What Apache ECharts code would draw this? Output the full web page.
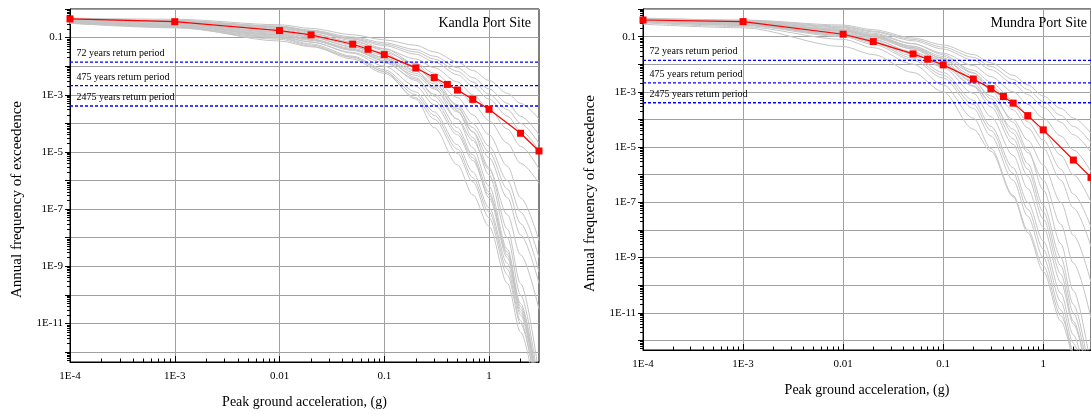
<!DOCTYPE html>
<html>
<head>
<meta charset="utf-8">
<title>Hazard curves - Kandla and Mundra port sites</title>
<script src="https://cdn.jsdelivr.net/npm/echarts@6/dist/echarts.min.js"></script>
<style>
  html, body { margin: 0; padding: 0; background: #fff; }
  #chart { width: 1091px; height: 414px; }
</style>
</head>
<body>
<div id="chart"></div>
<script>
// PGA levels (g) of the mean hazard curve markers
const meanPga = [1e-4, 1e-3, 0.01, 0.02, 0.05, 0.07, 0.1, 0.2, 0.3, 0.4, 0.5, 0.7, 1, 2, 3];

// mean annual frequency of exceedence
const kandlaMean = [0.45, 0.36, 0.176, 0.124, 0.0586, 0.039, 0.0254, 0.0087, 0.0040, 0.0023, 0.00146, 6.9e-4, 3.1e-4, 4.5e-5, 1.08e-5];
const mundraMean = [0.40, 0.35, 0.122, 0.066, 0.0237, 0.0152, 0.0095, 0.0029, 0.00131, 6.8e-4, 3.9e-4, 1.38e-4, 4.2e-5, 3.4e-6, 8e-7];

// logic tree branches (grey), log10 of annual frequency at these PGA levels
const branchPga = [1e-4, 1e-3, 0.01, 0.02, 0.05, 0.1, 0.2, 0.3, 0.5, 0.7, 1, 1.5, 2, 3];

const kandlaBranchesLog = [
  [-0.32, -0.36, -0.55, -0.68, -0.90, -1.08, -1.27, -1.50, -1.85, -2.15, -2.50, -2.95, -3.30, -3.85],
  [-0.35, -0.41, -0.63, -0.77, -1.02, -1.23, -1.50, -1.75, -2.18, -2.55, -2.98, -3.52, -4.00, -4.70],
  [-0.34, -0.40, -0.60, -0.74, -0.98, -1.18, -1.42, -1.65, -2.05, -2.40, -2.80, -3.30, -3.75, -4.40],
  [-0.36, -0.43, -0.66, -0.80, -1.05, -1.28, -1.58, -1.85, -2.30, -2.70, -3.15, -3.75, -4.25, -4.95],
  [-0.38, -0.47, -0.72, -0.88, -1.15, -1.40, -1.75, -2.05, -2.55, -3.00, -3.50, -4.20, -4.80, -5.60],
  [-0.40, -0.50, -0.78, -0.95, -1.25, -1.52, -1.90, -2.25, -2.80, -3.30, -3.90, -4.70, -5.40, -6.10],
  [-0.42, -0.53, -0.82, -1.00, -1.32, -1.62, -2.05, -2.45, -3.10, -3.70, -4.40, -5.50, -6.60, -8.10],
  [-0.44, -0.56, -0.88, -1.06, -1.38, -1.70, -2.18, -2.62, -3.35, -4.00, -4.80, -6.00, -7.10, -8.70],
  [-0.45, -0.58, -0.90, -1.08, -1.42, -1.75, -2.25, -2.70, -3.48, -4.15, -5.00, -6.30, -7.50, -9.20],
  [-0.46, -0.60, -0.92, -1.10, -1.45, -1.80, -2.32, -2.80, -3.60, -4.30, -5.20, -6.60, -7.90, -9.60],
  [-0.48, -0.63, -0.98, -1.16, -1.52, -1.88, -2.45, -2.98, -3.85, -4.60, -5.60, -7.20, -8.60, -10.50],
  [-0.34, -0.40, -0.60, -0.76, -1.05, -1.38, -1.92, -2.45, -3.40, -4.30, -5.55, -7.70, -9.60, -12.80],
  [-0.36, -0.42, -0.64, -0.80, -1.10, -1.45, -2.00, -2.55, -3.55, -4.50, -5.80, -8.00, -10.00, -13.20],
  [-0.38, -0.45, -0.68, -0.85, -1.18, -1.55, -2.15, -2.75, -3.85, -4.85, -6.20, -8.40, -10.30, -13.40],
  [-0.42, -0.52, -0.80, -0.98, -1.32, -1.70, -2.40, -3.05, -4.15, -5.10, -6.40, -8.60, -10.50, -13.60],
  [-0.44, -0.55, -0.85, -1.05, -1.42, -1.82, -2.50, -3.20, -4.30, -5.20, -6.60, -8.70, -10.60, -13.70],
  [-0.45, -0.58, -0.95, -1.15, -1.55, -2.00, -2.70, -3.35, -4.40, -5.30, -6.50, -8.50, -10.40, -13.50],
  [-0.47, -0.62, -1.00, -1.22, -1.65, -2.12, -2.90, -3.60, -4.75, -5.70, -6.95, -8.90, -10.70, -13.80],
  [-0.48, -0.64, -1.02, -1.26, -1.70, -2.18, -3.00, -3.72, -4.90, -5.90, -7.10, -9.10, -10.90, -14.00],
  [-0.50, -0.66, -1.06, -1.30, -1.75, -2.25, -3.10, -3.85, -5.05, -6.05, -7.30, -9.30, -11.00, -13.90],
  [-0.50, -0.62, -1.12, -1.32, -1.68, -2.19, -3.15, -4.15, -5.45, -6.50, -7.60, -9.60, -11.30, -14.20]
];

const mundraBranchesLog = [
  [-0.33, -0.40, -0.58, -0.75, -1.05, -1.30, -1.65, -1.95, -2.40, -2.75, -3.15, -3.60, -3.95, -4.50],
  [-0.34, -0.41, -0.62, -0.80, -1.10, -1.38, -1.75, -2.08, -2.55, -2.92, -3.35, -3.85, -4.25, -4.85],
  [-0.35, -0.43, -0.65, -0.83, -1.15, -1.45, -1.85, -2.20, -2.70, -3.10, -3.55, -4.10, -4.55, -5.20],
  [-0.37, -0.46, -0.72, -0.92, -1.26, -1.60, -2.05, -2.45, -3.00, -3.45, -3.95, -4.60, -5.10, -5.90],
  [-0.39, -0.48, -0.78, -0.98, -1.35, -1.72, -2.22, -2.65, -3.30, -3.85, -4.45, -5.30, -6.00, -7.00],
  [-0.40, -0.49, -0.80, -1.00, -1.40, -1.78, -2.32, -2.78, -3.48, -4.08, -4.75, -5.80, -6.70, -7.90],
  [-0.41, -0.51, -0.84, -1.05, -1.45, -1.85, -2.42, -2.90, -3.65, -4.30, -5.05, -6.20, -7.20, -8.60],
  [-0.43, -0.54, -0.90, -1.12, -1.55, -1.98, -2.62, -3.15, -4.00, -4.75, -5.65, -7.00, -8.20, -9.90],
  [-0.45, -0.57, -0.95, -1.18, -1.62, -2.08, -2.78, -3.38, -4.35, -5.20, -6.20, -7.80, -9.20, -11.20],
  [-0.36, -0.44, -0.68, -0.88, -1.25, -1.65, -2.30, -2.95, -4.10, -5.10, -6.55, -8.50, -10.20, -13.00],
  [-0.38, -0.47, -0.74, -0.95, -1.35, -1.80, -2.55, -3.25, -4.50, -5.60, -7.10, -9.00, -10.70, -13.50],
  [-0.39, -0.48, -0.77, -0.98, -1.40, -1.88, -2.68, -3.40, -4.70, -5.80, -7.35, -9.30, -11.00, -13.80],
  [-0.40, -0.50, -0.80, -1.02, -1.45, -1.95, -2.80, -3.55, -4.90, -6.05, -7.60, -9.60, -11.30, -14.00],
  [-0.42, -0.53, -0.86, -1.10, -1.58, -2.12, -3.05, -3.90, -5.30, -6.50, -7.90, -9.90, -11.40, -14.00],
  [-0.44, -0.56, -0.92, -1.18, -1.70, -2.30, -3.30, -4.25, -5.75, -7.00, -8.40, -10.30, -11.80, -14.50],
  [-0.46, -0.58, -0.96, -1.22, -1.78, -2.40, -3.45, -4.40, -5.95, -7.25, -8.70, -10.60, -12.10, -14.80],
  [-0.47, -0.60, -1.00, -1.28, -1.85, -2.50, -3.60, -4.60, -6.20, -7.50, -9.00, -10.90, -12.40, -15.00],
  [-0.50, -0.64, -1.10, -1.40, -2.00, -2.75, -3.95, -5.05, -6.75, -8.00, -9.30, -11.10, -12.60],
  [-0.55, -0.68, -1.36, -1.65, -2.30, -3.00, -4.35, -5.15, -6.80, -8.10, -9.50, -11.30, -12.80]
];

const returnPeriods = [72, 475, 2475];

const xTickValues = [1e-4, 1e-3, 0.01, 0.1, 1];
const yLabelValues = [0.1, 1e-3, 1e-5, 1e-7, 1e-9, 1e-11];

const serif = "'Liberation Serif', 'DejaVu Serif', serif";
const X_MIN = 1e-4, X_MAX = 3, Y_MIN = 4.5e-13, Y_MAX = 1;

// decade ticks and 2..9 minor ticks
const yDecades = [], xMinor = [], yMinor = [];
for (let k = -13; k <= 0; k++) {
  const p = Math.pow(10, k);
  if (p >= Y_MIN && p <= Y_MAX) yDecades.push(p);
  for (let m = 2; m <= 9; m++) {
    const v = +(m * p).toPrecision(3);
    if (v > X_MIN && v < X_MAX) xMinor.push(v);
    if (v > Y_MIN && v < Y_MAX) yMinor.push(v);
  }
}

function logLabel(v) {
  if (v >= 0.01) return String(+v.toPrecision(2));
  return '1E' + Math.round(Math.log10(v));
}

const grids = [
  { left: 70, top: 9, width: 469, height: 353, show: true, borderColor: '#000', borderWidth: 1 },
  { left: 643, top: 9, width: 456, height: 341, show: true, borderColor: '#000', borderWidth: 1 }
];

const xAxes = [], yAxes = [], series = [];

function addPanel(g, mean, branches) {
  const xi = xAxes.length, yi = yAxes.length;
  xAxes.push({
    type: 'log', gridIndex: g, position: 'bottom', min: X_MIN, max: X_MAX,
    name: 'Peak ground acceleration, (g)', nameLocation: 'middle', nameGap: 33,
    nameTextStyle: { fontFamily: serif, fontSize: 14, color: '#000' },
    axisLine: { lineStyle: { color: '#000', width: 1 } },
    axisTick: { inside: true, length: 6, customValues: xTickValues, lineStyle: { color: '#000' } },
    axisLabel: { customValues: xTickValues, formatter: logLabel, fontFamily: serif, fontSize: 11, color: '#000', margin: 9 },
    splitLine: { show: true, lineStyle: { color: '#a0a0a0', width: 1 } }
  });
  xAxes.push({
    type: 'log', gridIndex: g, position: 'bottom', offset: 0, min: X_MIN, max: X_MAX,
    axisLine: { show: false },
    axisTick: { inside: true, length: 3.5, customValues: xMinor, lineStyle: { color: '#000' } },
    axisLabel: { show: false },
    splitLine: { show: false }
  });
  yAxes.push({
    type: 'log', gridIndex: g, position: 'left', min: Y_MIN, max: Y_MAX,
    name: 'Annual frequency of exceedence', nameLocation: 'middle', nameGap: 45,
    nameTextStyle: { fontFamily: serif, fontSize: 15, color: '#000', padding: [0, 28, 0, 0] },
    axisLine: { lineStyle: { color: '#000', width: 1 } },
    axisTick: { inside: false, length: 5, customValues: yDecades, lineStyle: { color: '#000' } },
    axisLabel: { customValues: yLabelValues, formatter: logLabel, fontFamily: serif, fontSize: 11, color: '#000', margin: 7 },
    splitLine: { show: true, lineStyle: { color: '#a0a0a0', width: 1 } }
  });
  yAxes.push({
    type: 'log', gridIndex: g, position: 'left', offset: 0, min: Y_MIN, max: Y_MAX,
    axisLine: { show: false },
    axisTick: { inside: false, length: 3, customValues: yMinor, lineStyle: { color: '#000' } },
    axisLabel: { show: false },
    splitLine: { show: false }
  });

  branches.forEach((b) => {
    series.push({
      type: 'line', xAxisIndex: xi, yAxisIndex: yi, silent: true,
      showSymbol: false, symbol: 'none', smooth: 0.3, smoothMonotone: 'x',
      lineStyle: { color: '#c4c4c4', width: 1 }, z: 1,
      data: b.map((lv, i) => [branchPga[i], Math.pow(10, lv)])
    });
  });

  // return period levels, full width, label above the left end
  returnPeriods.forEach((T) => {
    series.push({
      type: 'line', xAxisIndex: xi, yAxisIndex: yi, silent: true, z: 3,
      symbol: 'circle', symbolSize: 1, showSymbol: true,
      itemStyle: { color: 'rgba(0,0,0,0)', borderWidth: 0 },
      lineStyle: { color: '#0000ff', type: [3, 2], width: 1.3 },
      data: [
        {
          value: [X_MIN, 1 / T],
          label: { show: true, position: [7, -13], formatter: T + ' years return period', fontFamily: serif, fontSize: 10, color: '#000' }
        },
        [X_MAX, 1 / T]
      ]
    });
  });

  series.push({
    type: 'line', xAxisIndex: xi, yAxisIndex: yi, z: 5,
    symbol: 'rect', symbolSize: 7,
    lineStyle: { color: '#ff0000', width: 1.2 },
    itemStyle: { color: '#ff0000' },
    data: mean.map((v, i) => [meanPga[i], v])
  });
}

addPanel(0, kandlaMean, kandlaBranchesLog);
addPanel(1, mundraMean, mundraBranchesLog);

const chart = echarts.init(document.getElementById('chart'), null, { renderer: 'canvas' });
chart.setOption({
  animation: false,
  backgroundColor: '#fff',
  title: [
    { text: 'Kandla Port Site', right: 560, top: 16, padding: 0, textStyle: { fontFamily: serif, fontSize: 14, fontWeight: 'normal', color: '#000' } },
    { text: 'Mundra Port Site', right: 4, top: 16, padding: 0, textStyle: { fontFamily: serif, fontSize: 14, fontWeight: 'normal', color: '#000' } }
  ],
  grid: grids,
  xAxis: xAxes,
  yAxis: yAxes,
  series: series
});
</script>
</body>
</html>
